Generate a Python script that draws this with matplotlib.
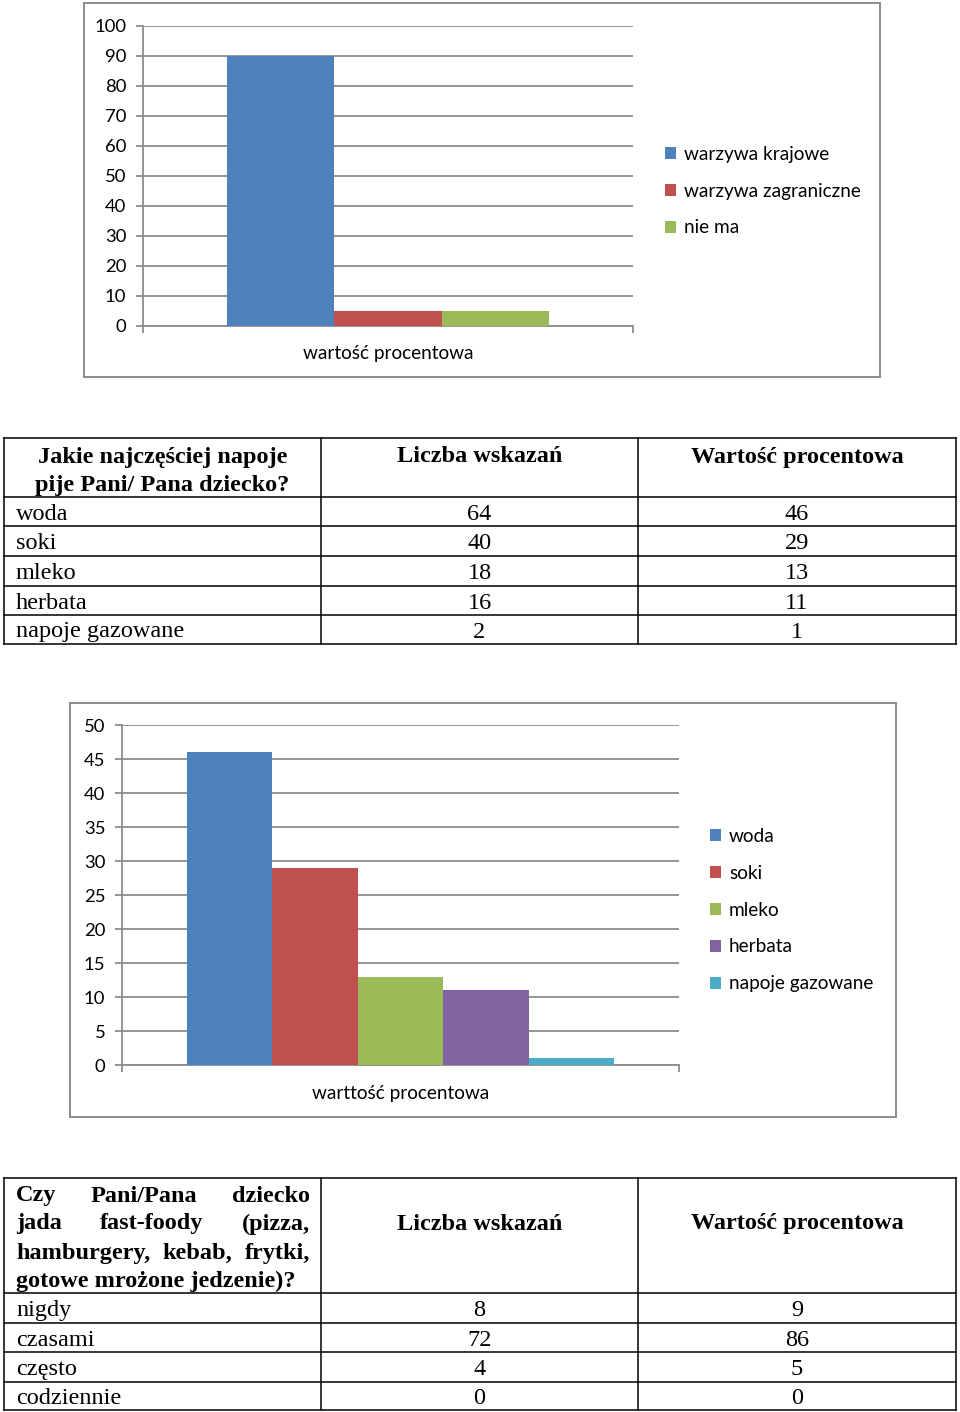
import matplotlib.pyplot as plt
from matplotlib.patches import Rectangle
from matplotlib.lines import Line2D

# dane - wykres 1 (warzywa)
veg_labels = ['warzywa krajowe', 'warzywa zagraniczne', 'nie ma']
veg_values = [90, 5, 5]
veg_xlabel = 'wartość procentowa'

# dane - tabela napoje
drinks = ['woda', 'soki', 'mleko', 'herbata', 'napoje gazowane']
drinks_count = [64, 40, 18, 16, 2]
drinks_pct = [46, 29, 13, 11, 1]
drinks_xlabel = 'warttość procentowa'

# dane - tabela fast-foody
ff_answers = ['nigdy', 'czasami', 'często', 'codziennie']
ff_count = [8, 72, 4, 0]
ff_pct = [9, 86, 5, 0]

colors = ['#4F81BD', '#C0504D', '#9BBB59', '#8064A2', '#4BACC6']
grid_col = '#8c8c8c'

W, H = 960, 1412
fig = plt.figure(figsize=(W / 100, H / 100), dpi=100)
fig.patch.set_facecolor('white')

CHART_FONT = ['Lato', 'DejaVu Sans']
TABLE_FONT = ['Liberation Serif', 'DejaVu Serif']


def fx(x):
    return x / W


def fy(y):
    return 1 - y / H


def frame(x0, y0, x1, y1, color=grid_col, lw=1.4):
    fig.patches.append(Rectangle((fx(x0), fy(y1)), fx(x1) - fx(x0), fy(y0) - fy(y1),
                                 transform=fig.transFigure, fill=False,
                                 edgecolor=color, linewidth=lw))


def hline(y, x0, x1, lw=1.1):
    fig.add_artist(Line2D([fx(x0), fx(x1)], [fy(y), fy(y)], color='black', lw=lw,
                          transform=fig.transFigure))


def vline(x, y0, y1, lw=1.1):
    fig.add_artist(Line2D([fx(x), fx(x)], [fy(y0), fy(y1)], color='black', lw=lw,
                          transform=fig.transFigure))


def bar_chart(rect, labels, values, ymax, step, group, xlabel, lab_y, leg_x, leg_y):
    x0, y0, x1, y1 = rect
    ax = fig.add_axes([fx(x0), fy(y1), fx(x1) - fx(x0), fy(y0) - fy(y1)])
    n = len(values)
    w = group / n
    for i, (lab, v) in enumerate(zip(labels, values)):
        ax.bar(-group / 2 + w * (i + 0.5), v, width=w, color=colors[i], label=lab, zorder=3)
    ax.set_xlim(-0.5, 0.5)
    ax.set_ylim(0, ymax)
    ax.set_yticks(range(0, ymax + 1, step))
    ax.set_xticks([-0.5, 0.5])
    ax.set_xticklabels([])
    ax.yaxis.grid(True, color=grid_col, lw=1.3, zorder=0)
    for s in ['top', 'right']:
        ax.spines[s].set_visible(False)
    for s in ['left', 'bottom']:
        ax.spines[s].set_color(grid_col)
        ax.spines[s].set_linewidth(1.3)
    ax.tick_params(axis='both', direction='out', length=5, color=grid_col, width=1.3)
    ax.tick_params(axis='y', pad=7, labelsize=13.3)
    for t in ax.get_yticklabels():
        t.set_family(CHART_FONT)
    fig.text(fx((x0 + x1) / 2), fy(lab_y), xlabel, ha='center', va='center',
             fontsize=13.7, family=CHART_FONT)
    ax.legend(loc='center left', bbox_to_anchor=(fx(leg_x), fy(leg_y)),
              bbox_transform=fig.transFigure, frameon=False,
              prop={'family': CHART_FONT, 'size': 13.7},
              handlelength=0.6, handleheight=0.6, handletextpad=0.4,
              labelspacing=1.05, borderaxespad=0, borderpad=0)
    return ax


# wykres 1
frame(84, 3, 880, 377)
bar_chart((143, 26, 633, 326), veg_labels, veg_values, 100, 10, 0.657,
          veg_xlabel, 353, 665, 191)

# wykres 2
frame(70, 703, 896, 1117)
bar_chart((122, 725, 679, 1065), drinks, drinks_pct, 50, 5, 0.767,
          drinks_xlabel, 1093, 710, 910)

# tabele
FS = 17.5
cols = [4, 321, 638, 956]
c_mid = [(cols[1] + cols[2]) / 2, (cols[2] + cols[3]) / 2]


def ttext(x, y, s, ha='left', bold=False):
    return fig.text(fx(x), fy(y + 2), s, ha=ha, va='center', fontsize=FS,
                    family=TABLE_FONT, fontweight='bold' if bold else 'normal')


def justify(words, y, xa, xb):
    r = fig.canvas.get_renderer()
    txts = [ttext(0, y, w_, bold=True) for w_ in words]
    widths = [t.get_window_extent(r).width for t in txts]
    gap = (xb - xa - sum(widths)) / (len(words) - 1)
    x = xa
    for t, wd in zip(txts, widths):
        t.set_x(fx(x))
        x += wd + gap


def table(top, head_bot, rows_y, names, cnt, pct):
    ys = [top, head_bot] + rows_y
    for y in ys:
        hline(y, cols[0], cols[3])
    for x in cols:
        vline(x, top, ys[-1])
    for i, (nm, c, p) in enumerate(zip(names, cnt, pct)):
        yc = (ys[i + 1] + ys[i + 2]) / 2 + 0.5
        ttext(16, yc, nm)
        ttext(c_mid[0], yc, str(c), ha='center')
        ttext(c_mid[1], yc, str(p), ha='center')


# tabela 1
table(438, 497, [526, 556, 586, 615, 644], drinks, drinks_count, drinks_pct)
ttext(162.5, 455, 'Jakie najczęściej napoje', ha='center', bold=True)
ttext(162.5, 483, 'pije Pani/ Pana dziecko?', ha='center', bold=True)
ttext(c_mid[0], 455, 'Liczba wskazań', ha='center', bold=True)
ttext(c_mid[1], 455, 'Wartość procentowa', ha='center', bold=True)

# tabela 2
table(1178, 1293, [1323, 1352, 1382, 1410], ff_answers, ff_count, ff_pct)
justify(['Czy', 'Pani/Pana', 'dziecko'], 1194, 16, 310)
justify(['jada', 'fast-foody', '(pizza,'], 1222, 16, 310)
justify(['hamburgery,', 'kebab,', 'frytki,'], 1251, 16, 310)
ttext(16, 1279, 'gotowe mrożone jedzenie)?', bold=True)
ttext(c_mid[0], 1222, 'Liczba wskazań', ha='center', bold=True)
ttext(c_mid[1], 1222, 'Wartość procentowa', ha='center', bold=True)

fig.savefig('out.png', dpi=100)
